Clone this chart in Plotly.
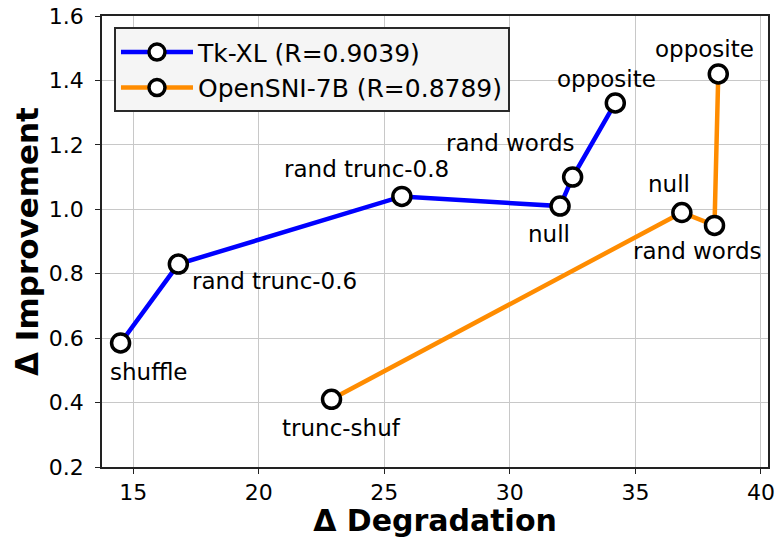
import plotly.graph_objects as go

# Data
tk_labels = ["shuffle", "rand trunc-0.6", "rand trunc-0.8", "null", "rand words", "opposite"]
tk_x = [14.5, 16.8, 25.7, 32.0, 32.5, 34.2]
tk_y = [0.585, 0.83, 1.04, 1.01, 1.10, 1.33]

os_labels = ["trunc-shuf", "null", "rand words", "opposite"]
os_x = [22.9, 36.85, 38.15, 38.3]
os_y = [0.41, 0.99, 0.95, 1.42]

tk_name = "Tk-XL (R=0.9039)"
os_name = "OpenSNI-7B (R=0.8789)"

x_ticks = [15, 20, 25, 30, 35, 40]
y_ticks = [0.2, 0.4, 0.6, 0.8, 1.0, 1.2, 1.4, 1.6]

# label pixel offsets (style)
tk_off = [(28, -29, "center"), (12, -17, "left"), (-35, 27, "center"), (-11, -28, "center"), (-62, 34, "center"), (-9, 24, "center")]
os_off = [(10, -29, "center"), (-13, 29, "center"), (-17, -26, "center"), (-14, 25, "center")]

FONT = "DejaVu Sans"
marker = dict(size=18, color="white", line=dict(color="black", width=3.5))

fig = go.Figure()
fig.add_trace(go.Scatter(x=tk_x, y=tk_y, mode="lines+markers", name=tk_name,
                         line=dict(color="#0000ff", width=4.5), marker=marker))
fig.add_trace(go.Scatter(x=os_x, y=os_y, mode="lines+markers", name=os_name,
                         line=dict(color="#ff8c00", width=4.5), marker=marker))

annotations = []
for labels, xs, ys, offs in [(tk_labels, tk_x, tk_y, tk_off), (os_labels, os_x, os_y, os_off)]:
    for lab, xv, yv, (dx, dy, anc) in zip(labels, xs, ys, offs):
        annotations.append(dict(x=xv, y=yv, text=lab, showarrow=False, xshift=dx, yshift=dy,
                                xanchor=anc, yanchor="middle",
                                font=dict(family=FONT, size=23, color="black")))

fig.update_layout(
    width=776, height=538,
    margin=dict(l=102, r=8, t=16, b=71, autoexpand=False),
    plot_bgcolor="white", paper_bgcolor="white",
    font=dict(family=FONT, size=22, color="black"),
    annotations=annotations,
    showlegend=True,
    legend=dict(x=0.018, y=0.975, xanchor="left", yanchor="top",
                bgcolor="#f5f5f5", bordercolor="#2a2a2a", borderwidth=2,
                font=dict(family=FONT, size=25, color="black"),
                tracegroupgap=0, itemwidth=72),
)
fig.update_xaxes(range=[13.76, 40.28], tickvals=x_ticks, showgrid=True, gridcolor="#c8c8c8", gridwidth=1,
                 showline=True, linecolor="#222222", linewidth=1.5, mirror=True, automargin=False,
                 ticks="outside", ticklen=5, tickcolor="#222222", zeroline=False,
                 tickfont=dict(family=FONT, size=22),
                 title=dict(text="<b>Δ Degradation</b>", font=dict(family=FONT, size=30), standoff=4))
fig.update_yaxes(range=[0.2, 1.6], tickvals=y_ticks, tickformat=".1f", showgrid=True, gridcolor="#c8c8c8", gridwidth=1,
                 showline=True, linecolor="#222222", linewidth=1.5, mirror=True, automargin=False,
                 ticks="outside", ticklen=5, tickcolor="#222222", zeroline=False, ticklabelstandoff=7,
                 tickfont=dict(family=FONT, size=22),
                 title=dict(text="<b>Δ Improvement</b>", font=dict(family=FONT, size=31), standoff=1))

fig.write_html("out.html", post_script="document.body.style.margin='0';",
               config={"displayModeBar": False})
